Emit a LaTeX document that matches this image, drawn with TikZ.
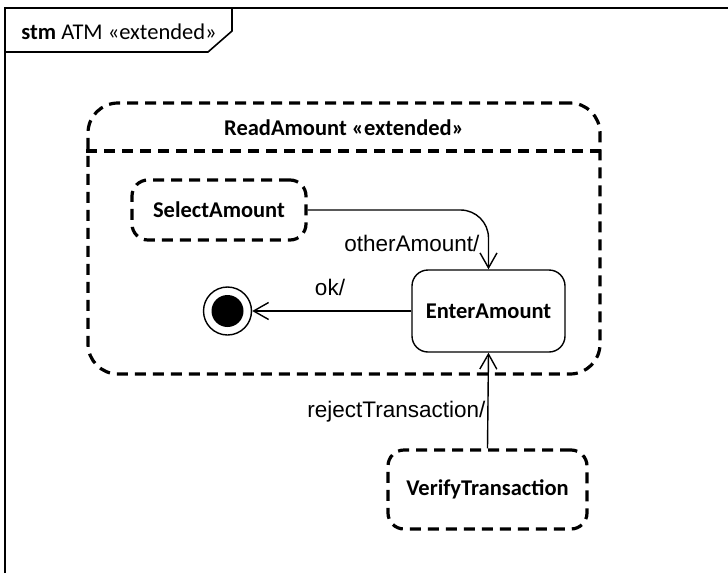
\documentclass[tikz,border=0pt]{standalone}
\usepackage{fontspec}
\setmainfont{Carlito}
\newfontfamily\arialfont{Liberation Sans}
\usetikzlibrary{arrows.meta}

\begin{document}
\begin{tikzpicture}[
    x=1pt, y=-1pt,
    statefont/.style={font=\fontsize{22.5}{27}\selectfont\bfseries},
    evfont/.style={font=\arialfont\fontsize{22.5}{27}\selectfont},
    dashedbox/.style={draw, line width=3.2pt, dash pattern=on 11pt off 7pt},
    simplestate/.style={rounded corners=16pt, inner sep=0pt, statefont},
    activestate/.style={simplestate, draw, line width=1.4pt},
    finalstate/.style={circle, draw, line width=1.4pt, minimum size=48pt, inner sep=0pt},
    trans/.style={line width=1.4pt, -{Straight Barb[length=15pt, width=17pt, line width=1.4pt]}},
    frameline/.style={line width=1.6pt}
  ]
    \useasboundingbox (0,0) rectangle (728,573);

    % diagram frame and header tab
    \draw[frameline] (5,573) -- (5,8) -- (728,8);
    \draw[frameline] (232,8) -- (232,31) -- (208,52) -- (5,52);
    \node[font=\fontsize{22.5}{27}\selectfont] (header) at (119,32) {\textbf{stm} ATM «extended»};

    % composite state
    \node[dashedbox, rounded corners=30pt, minimum width=512pt, minimum height=271pt] (readamount) at (344,238.5) {};
    \node[statefont] (readtitle) at (344,128) {ReadAmount «extended»};
    \draw[dashedbox] (readamount.west |- 0,151) -- (readamount.east |- 0,151);

    % states
    \node[simplestate, dashedbox, minimum width=174pt, minimum height=60pt] (selectamount) at (219,210) {SelectAmount};
    \node[activestate, minimum width=153pt, minimum height=82pt] (enteramount) at (488.5,311) {EnterAmount};
    \node[simplestate, dashedbox, minimum width=199pt, minimum height=79pt] (verifytrans) at (487.5,489.5) {VerifyTransaction};
    \node[finalstate] (final) at (227.5,311) {};
    \fill (final.center) circle (16pt);

    % transitions
    \draw[trans, rounded corners=28pt] (selectamount.east) -| (enteramount.north);
    \node[evfont, anchor=east] (lblother) at (483,243) {otherAmount/};
    \draw[trans] (enteramount.west) -- (final.east);
    \node[evfont] (lblok) at (330,287) {ok/};
    \draw[trans] (verifytrans.north) -- (enteramount.south);
    \node[evfont, anchor=east] (lblreject) at (489,412) {rejectTransaction/};
  \end{tikzpicture}
\end{document}
